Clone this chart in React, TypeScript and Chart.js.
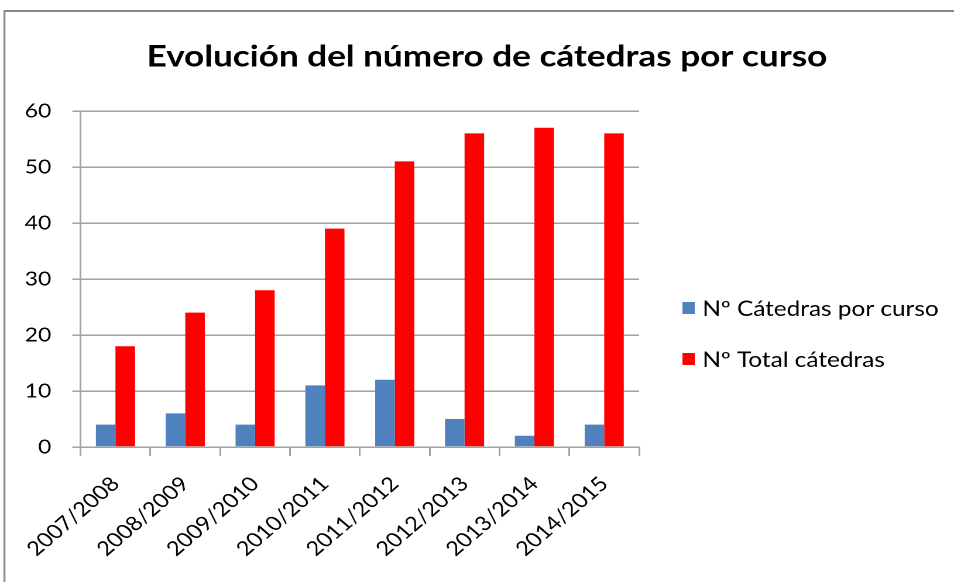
import React, { useEffect, useRef } from "react";
import { Chart, registerables } from "chart.js";

Chart.register(...registerables);

const categories = ["2007/2008", "2008/2009", "2009/2010", "2010/2011", "2011/2012", "2012/2013", "2013/2014", "2014/2015"];
const catedrasPorCurso = [4, 6, 4, 11, 12, 5, 2, 4];
const totalCatedras = [18, 24, 28, 39, 51, 56, 57, 56];
const seriesNames = ["Nº Cátedras por curso", "Nº Total cátedras"];
const seriesColors = ["#4F81BD", "#FF0000"];
const titleText = "Evolución del número de cátedras por curso";
const yTicks = { min: 0, max: 60, step: 10 };

// The reference image is horizontally stretched; draw at a narrower internal width and stretch with CSS.
const VIEW_W = 954;
const VIEW_H = 582;
const SX = 1.17;
const INNER_W = Math.round(VIEW_W / SX);

const FONT = "Lato, 'Open Sans', sans-serif";
const GRID = "#a2a2a2";

const framePlugin = {
  id: "frame",
  beforeDraw(chart: any) {
    const ctx = chart.ctx;
    ctx.save();
    ctx.fillStyle = "#ffffff";
    ctx.fillRect(0, 0, chart.width, chart.height);
    ctx.strokeStyle = "#8a8a8a";
    ctx.lineWidth = 2;
    ctx.beginPath();
    ctx.moveTo(3.2, 11);
    ctx.lineTo(chart.width + 5, 11);
    ctx.stroke();
    ctx.lineWidth = 1.7;
    ctx.beginPath();
    ctx.moveTo(3.8, chart.height + 5);
    ctx.lineTo(3.8, 10);
    ctx.stroke();
    ctx.restore();
  },
};

const sideLegendPlugin = {
  id: "sideLegend",
  afterDraw(chart: any) {
    const ctx = chart.ctx;
    const x0 = chart.chartArea.right + 37;
    const rows = [308, 359];
    ctx.save();
    ctx.font = `20.8px ${FONT}`;
    ctx.textBaseline = "middle";
    ctx.textAlign = "left";
    chart.data.datasets.forEach((ds: any, i: number) => {
      const cy = rows[i];
      ctx.fillStyle = ds.backgroundColor;
      ctx.fillRect(x0, cy - 6, 10.5, 12);
      ctx.fillStyle = "#000";
      ctx.fillText(ds.label, x0 + 17, cy + 1.5);
    });
    ctx.restore();
  },
};

export default function App() {
  const ref = useRef<HTMLCanvasElement>(null);
  useEffect(() => {
    if (!ref.current) return;
    const chart = new Chart(ref.current, {
      type: "bar",
      data: {
        labels: categories,
        datasets: [
          { label: seriesNames[0], data: catedrasPorCurso, backgroundColor: seriesColors[0], barPercentage: 1, categoryPercentage: 0.56, yAxisID: "y" },
          { label: seriesNames[1], data: totalCatedras, backgroundColor: seriesColors[1], barPercentage: 1, categoryPercentage: 0.56, yAxisID: "y" },
        ],
      },
      options: {
        animation: false,
        responsive: false,
        maintainAspectRatio: false,
        devicePixelRatio: 2,
        layout: { padding: { top: 10, left: 20, right: 3, bottom: 0 } },
        plugins: {
          title: {
            display: true,
            text: titleText,
            color: "#000",
            font: { family: FONT, size: 30, weight: "bold" },
            padding: { top: 29, bottom: 36 },
          },
          legend: { display: false },
          tooltip: { enabled: false },
        },
        scales: {
          x: {
            grid: { display: true, drawOnChartArea: false, drawTicks: true, tickLength: 9, color: GRID, lineWidth: 1.5, offset: true },
            border: { display: true, color: GRID, width: 1.5 },
            ticks: { color: "#000", font: { family: FONT, size: 20 }, maxRotation: 45, minRotation: 45, padding: 16 },
            afterFit: (s: any) => {
              s.paddingLeft = 0;
              s.paddingRight = 0;
              s.height = 135;
            },
          },
          y: {
            min: yTicks.min,
            max: yTicks.max,
            grid: { color: GRID, lineWidth: 1.5, tickLength: 7, drawTicks: true },
            border: { display: true, color: GRID, width: 1.5 },
            ticks: { stepSize: yTicks.step, color: "#000", font: { family: FONT, size: 19.5 }, padding: 18 },
            afterFit: (s: any) => {
              s.width = 48.8;
            },
          },
          legendSpace: {
            type: "linear",
            position: "right",
            display: true,
            grid: { display: false, drawTicks: false },
            border: { display: false },
            ticks: { display: false },
            afterFit: (s: any) => {
              s.width = 266;
            },
          },
        },
      },
      plugins: [framePlugin, sideLegendPlugin],
    });
    return () => chart.destroy();
  }, []);
  return (
    <div style={{ position: "absolute", left: 0, top: 0, width: VIEW_W, height: VIEW_H, overflow: "hidden" }}>
      <canvas ref={ref} width={INNER_W} height={VIEW_H} style={{ width: VIEW_W + "px", height: VIEW_H + "px", display: "block" }} />
    </div>
  );
}
